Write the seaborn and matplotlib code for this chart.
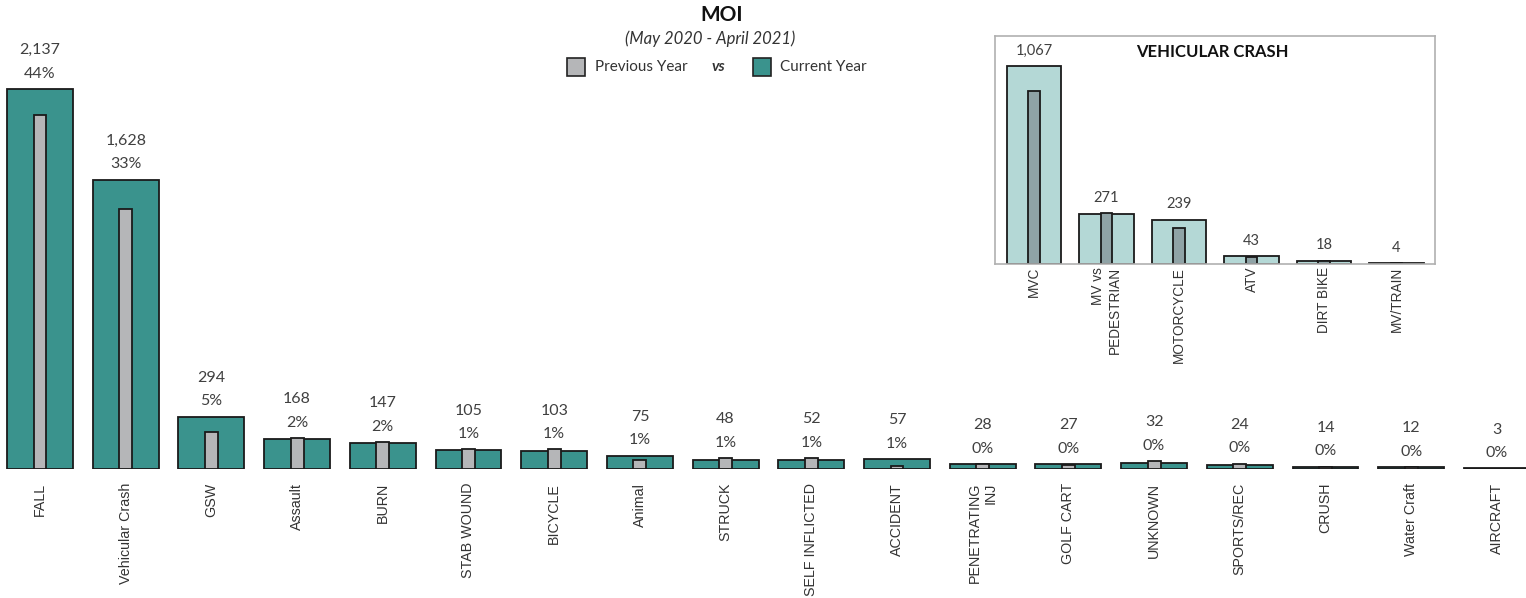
import matplotlib
matplotlib.use("Agg")
import matplotlib.pyplot as plt
import seaborn as sns
import pandas as pd
from matplotlib.patches import Rectangle

# Mechanism of injury, main categories
categories = ["FALL", "Vehicular Crash", "GSW", "Assault", "BURN", "STAB WOUND",
              "BICYCLE", "Animal", "STRUCK", "SELF INFLICTED", "ACCIDENT",
              "PENETRATING\nINJ", "GOLF CART", "UNKNOWN", "SPORTS/REC", "CRUSH",
              "Water Craft", "AIRCRAFT"]
current_year = [2137, 1628, 294, 168, 147, 105, 103, 75, 48, 52, 57, 28, 27, 32, 24, 14, 12, 3]
previous_year = [1991, 1464, 210, 175, 152, 110, 110, 50, 60, 62, 17, 28, 25, 45, 30, 12, 10, 2]
percent_labels = ["44%", "33%", "5%", "2%", "2%", "1%", "1%", "1%", "1%", "1%", "1%",
                  "0%", "0%", "0%", "0%", "0%", "0%", "0%"]

# Vehicular crash breakdown
vc_categories = ["MVC", "MV vs\nPEDESTRIAN", "MOTORCYCLE", "ATV", "DIRT BIKE", "MV/TRAIN"]
vc_current = [1067, 271, 239, 43, 18, 4]
vc_previous = [932, 275, 195, 38, 18, 3]

TEAL = "#3a938d"
GRAY = "#b5b6b8"
LIGHT_TEAL = "#b4d8d6"
DARK_GRAY = "#8fa3a6"
LABEL_COLOR = "#404040"

sns.set_theme(style="white")
plt.rcParams["font.family"] = ["Lato", "DejaVu Sans"]

W, H = 1526, 598
fig = plt.figure(figsize=(W / 100, H / 100), dpi=100)
fig.patch.set_facecolor("white")

main_df = pd.DataFrame({"cat": categories, "cur": current_year, "prev": previous_year})
vc_df = pd.DataFrame({"cat": vc_categories, "cur": vc_current, "prev": vc_previous})

# ---- main chart ----
ax = fig.add_axes([0, (H - 469) / H, 1, 449 / H])
sns.barplot(data=main_df, x="cat", y="cur", order=categories, color=TEAL, saturation=1,
            width=0.77, edgecolor="#1a1a1a", linewidth=1.3, ax=ax)
sns.barplot(data=main_df, x="cat", y="prev", order=categories, color=GRAY, saturation=1,
            width=0.15, edgecolor="#1a1a1a", linewidth=1.3, ax=ax)
ax.set_xlim(-40 / 85.7, (W - 40) / 85.7)
ax.set_ylim(0, 449 / 0.1778)
ax.set_xlabel("")
ax.set_ylabel("")
ax.set_yticks([])
for s in ax.spines.values():
    s.set_visible(False)
ax.tick_params(axis="x", length=0, pad=10)
ax.set_xticks(range(len(categories)))
ax.set_xticklabels(categories, rotation=90, va="top", ha="center", multialignment="right",
                   family=["Liberation Sans", "DejaVu Sans"], fontsize=10.3, color="#333333")

for i, (c, p, pct) in enumerate(zip(current_year, previous_year, percent_labels)):
    top = max(c, p)
    ax.annotate(pct, (i, top), xytext=(0, 11), textcoords="offset points",
                ha="center", va="center", fontsize=11.5, color=LABEL_COLOR)
    ax.annotate(f"{c:,}", (i, top), xytext=(0, 28), textcoords="offset points",
                ha="center", va="center", fontsize=11.5, color=LABEL_COLOR)

# ---- titles and legend ----
fig.text(722 / W, 1 - 15 / H, "MOI", ha="center", va="center", fontsize=15,
         fontweight="bold", color="#111111")
fig.text(710 / W, 1 - 39 / H, "(May 2020 - April 2021)", ha="center", va="center",
         fontsize=12, fontstyle="italic", color="#333333")
ly = 67
fig.patches.append(Rectangle((567 / W, 1 - (ly + 9) / H), 18 / W, 18 / H, transform=fig.transFigure,
                             facecolor=GRAY, edgecolor="#222222", linewidth=1.2))
fig.text(595 / W, 1 - ly / H, "Previous Year", ha="left", va="center", fontsize=11, color="#333333")
fig.text(718 / W, 1 - ly / H, "vs", ha="center", va="center", fontsize=11,
         fontstyle="italic", fontweight="bold", color="#333333")
fig.patches.append(Rectangle((753 / W, 1 - (ly + 9) / H), 18 / W, 18 / H, transform=fig.transFigure,
                             facecolor=TEAL, edgecolor="#222222", linewidth=1.2))
fig.text(780 / W, 1 - ly / H, "Current Year", ha="left", va="center", fontsize=11, color="#333333")

# ---- vehicular crash inset ----
ins = fig.add_axes([995 / W, (H - 264) / H, 440 / W, 228 / H])
ins.set_facecolor("white")
sns.barplot(data=vc_df, x="cat", y="cur", order=vc_categories, color=LIGHT_TEAL, saturation=1,
            width=0.75, edgecolor="#1a1a1a", linewidth=1.3, ax=ins)
sns.barplot(data=vc_df, x="cat", y="prev", order=vc_categories, color=DARK_GRAY, saturation=1,
            width=0.165, edgecolor="#1a1a1a", linewidth=1.3, ax=ins)
ins.set_xlim(-39 / 72.5, 401 / 72.5)
ins.set_ylim(0, 227 / 0.1846)
ins.set_xlabel("")
ins.set_ylabel("")
ins.set_yticks([])
for s in ins.spines.values():
    s.set_visible(True)
    s.set_color("#b0b0b0")
    s.set_linewidth(1.2)
ins.tick_params(axis="x", length=0, pad=2)
ins.set_xticks(range(len(vc_categories)))
ins.set_xticklabels(vc_categories, rotation=90, va="top", ha="center", multialignment="right",
                    family=["Liberation Sans", "DejaVu Sans"], fontsize=9.8, color="#333333")
for i, (c, p) in enumerate(zip(vc_current, vc_previous)):
    ins.annotate(f"{c:,}", (i, max(c, p)), xytext=(0, 11), textcoords="offset points",
                 ha="center", va="center", fontsize=10.5, color=LABEL_COLOR)
ins.text(0.495, 0.93, "VEHICULAR CRASH", transform=ins.transAxes, ha="center", va="center",
         fontsize=12, fontweight="bold", color="#111111")

fig.savefig("out.png", dpi=100, facecolor="white")
